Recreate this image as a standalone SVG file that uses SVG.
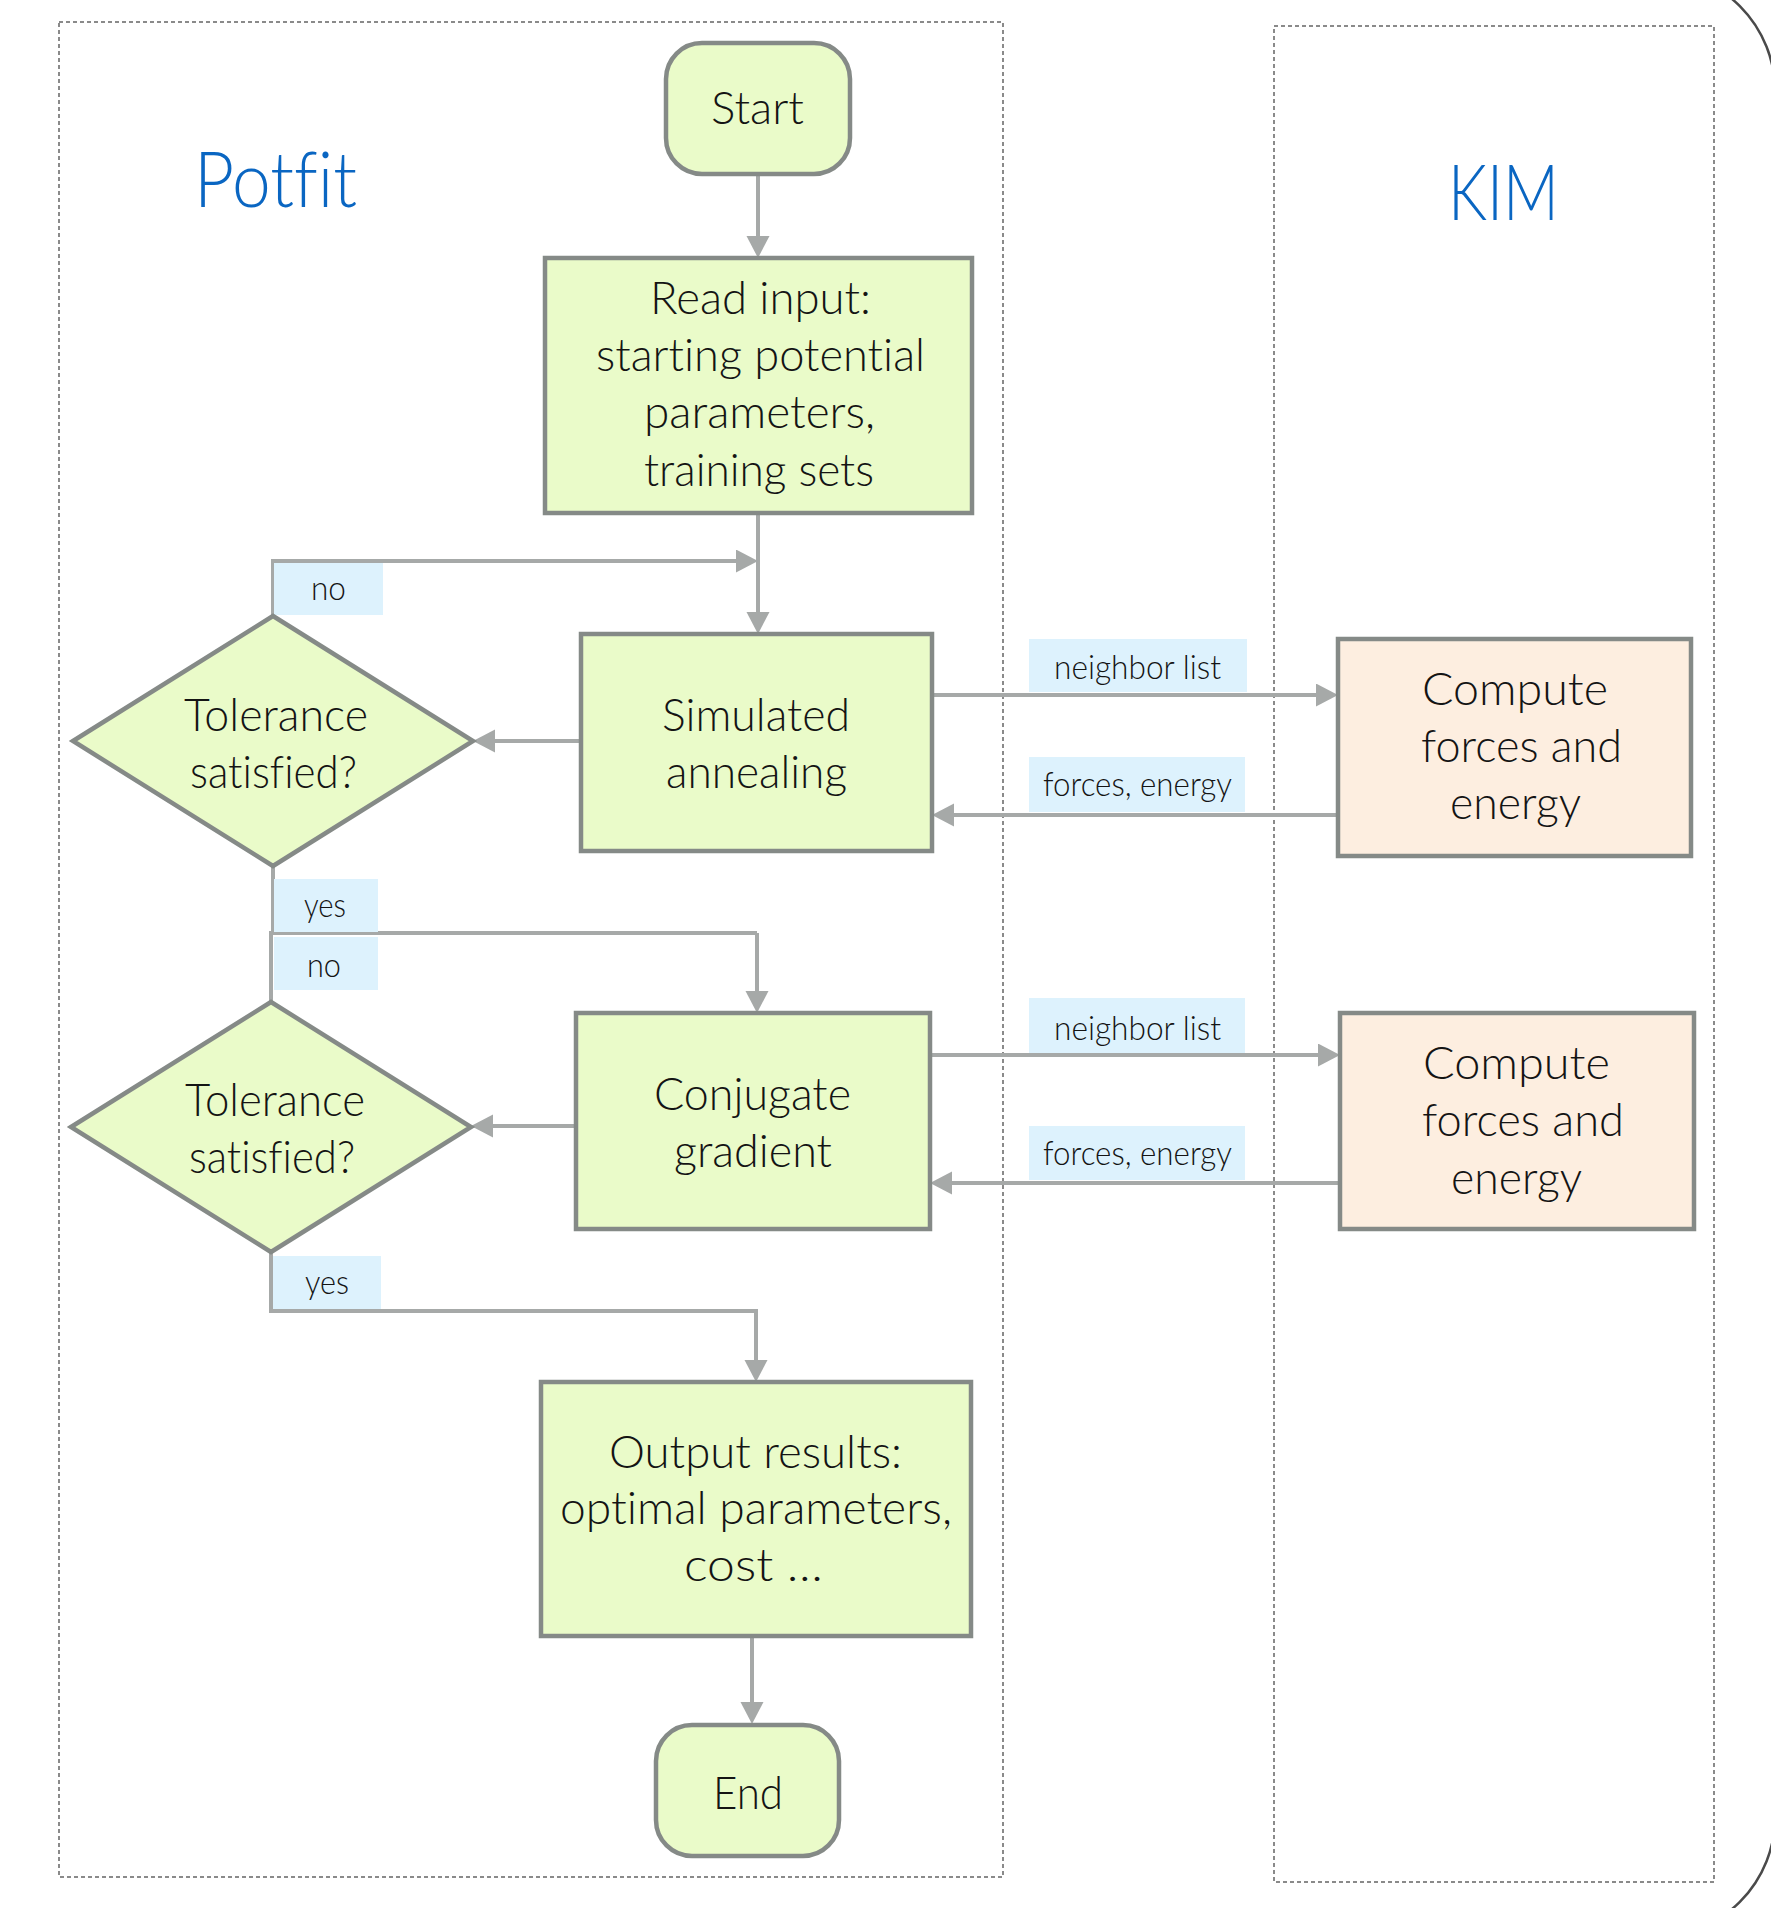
<svg xmlns="http://www.w3.org/2000/svg" width="1771" height="1908" viewBox="0 0 1771 1908">
<style>
text{font-family:Lato,"Open Sans","Liberation Sans",sans-serif;font-weight:300;fill:#141414;font-variant-ligatures:none;font-feature-settings:"liga" 0,"clig" 0,"dlig" 0}
.t{font-size:45px}
.lb{font-size:33px}
.ttl{font-size:76px;fill:#0a66c2}
.node{fill:#eafbc9;stroke:#858a87;stroke-width:4.5}
.kim{fill:#fdeee0;stroke:#858a87;stroke-width:4.5}
.lane{fill:none;stroke:#8a8a8a;stroke-width:2;stroke-dasharray:4 3}
.lbox{fill:#ddf2fd}
.c{fill:none;stroke:#a6a9a8;stroke-width:4;marker-end:url(#ah)}
.cn{fill:none;stroke:#a6a9a8;stroke-width:4}
</style>
<defs>
<marker id="ah" markerUnits="userSpaceOnUse" markerWidth="24" markerHeight="24" refX="14" refY="11.5" orient="auto">
<path d="M0,0 L22,11.5 L0,23 z" fill="#a6a9a8"/>
</marker>
</defs>
<rect width="1771" height="1908" fill="#fff"/>
<path d="M1600,-29 H1655 A120,120 0 0 1 1775,91 V1817 A120,120 0 0 1 1655,1937 H1600" fill="none" stroke="#4a4a4a" stroke-width="2.5"/>
<g id="lane-potfit">
<rect class="lane" x="59" y="22" width="944" height="1855"/>
<text class="ttl" x="194" y="207" textLength="163" lengthAdjust="spacingAndGlyphs">Potfit</text>
</g>
<g id="lane-kim">
<rect class="lane" x="1274" y="26" width="440" height="1856"/>
<text class="ttl" x="1448" y="220" textLength="111" lengthAdjust="spacingAndGlyphs">KIM</text>
</g>
<g id="connectors">
<path class="c" d="M758,176 V250"/>
<path class="c" d="M758,513 V626"/>
<path class="c" d="M581,741 H481"/>
<path class="c" d="M273,615 V561 H750"/>
<path class="cn" d="M273,867 V933"/>
<path class="cn" d="M271,1002 V933 H757"/>
<path class="c" d="M757,933 V1005"/>
<path class="c" d="M576,1126 H479"/>
<path class="c" d="M271,1252 V1311 H756 V1374"/>
<path class="c" d="M752,1636 V1716"/>
<path class="c" d="M932,695 H1330"/>
<path class="c" d="M1338,815 H940"/>
<path class="c" d="M930,1055 H1332"/>
<path class="c" d="M1340,1183 H938"/>
<rect class="lbox" x="274" y="563" width="109" height="52"/>
<text class="lb" x="311" y="600" textLength="35" lengthAdjust="spacingAndGlyphs">no</text>
<rect class="lbox" x="274" y="879" width="104" height="53"/>
<text class="lb" x="304" y="917" textLength="42" lengthAdjust="spacingAndGlyphs">yes</text>
<rect class="lbox" x="274" y="937" width="104" height="53"/>
<text class="lb" x="307" y="977" textLength="34" lengthAdjust="spacingAndGlyphs">no</text>
<rect class="lbox" x="273" y="1256" width="108" height="53"/>
<text class="lb" x="305" y="1294" textLength="44" lengthAdjust="spacingAndGlyphs">yes</text>
<rect class="lbox" x="1029" y="639" width="218" height="53"/>
<text class="lb" x="1054" y="679" textLength="167" lengthAdjust="spacingAndGlyphs">neighbor list</text>
<rect class="lbox" x="1029" y="757" width="216" height="55"/>
<text class="lb" x="1043" y="796" textLength="189" lengthAdjust="spacingAndGlyphs">forces, energy</text>
<rect class="lbox" x="1029" y="998" width="216" height="55"/>
<text class="lb" x="1054" y="1040" textLength="167" lengthAdjust="spacingAndGlyphs">neighbor list</text>
<rect class="lbox" x="1029" y="1126" width="216" height="54"/>
<text class="lb" x="1043" y="1165" textLength="189" lengthAdjust="spacingAndGlyphs">forces, energy</text>
</g>
<g id="start">
<rect class="node" x="666" y="43" width="184" height="131" rx="36"/>
<text class="t" x="711" y="124" textLength="93" lengthAdjust="spacingAndGlyphs">Start</text>
</g>
<g id="read-input">
<rect class="node" x="545" y="258" width="427" height="255"/>
<text class="t" x="650" y="314" textLength="221" lengthAdjust="spacingAndGlyphs">Read input:</text>
<text class="t" x="596" y="371" textLength="329" lengthAdjust="spacingAndGlyphs">starting potential</text>
<text class="t" x="644" y="428" textLength="231" lengthAdjust="spacingAndGlyphs">parameters,</text>
<text class="t" x="644" y="486" textLength="230" lengthAdjust="spacingAndGlyphs">training sets</text>
</g>
<g id="simulated-annealing">
<rect class="node" x="581" y="634" width="351" height="217"/>
<text class="t" x="662" y="731" textLength="188" lengthAdjust="spacingAndGlyphs">Simulated</text>
<text class="t" x="666" y="788" textLength="181" lengthAdjust="spacingAndGlyphs">annealing</text>
</g>
<g id="tolerance-1">
<polygon class="node" points="73,741 273,616 473,741 273,866"/>
<text class="t" x="184" y="731" textLength="184" lengthAdjust="spacingAndGlyphs">Tolerance</text>
<text class="t" x="190" y="788" textLength="167" lengthAdjust="spacingAndGlyphs">satisfied?</text>
</g>
<g id="conjugate-gradient">
<rect class="node" x="576" y="1013" width="354" height="216"/>
<text class="t" x="654" y="1110" textLength="197" lengthAdjust="spacingAndGlyphs">Conjugate</text>
<text class="t" x="674" y="1167" textLength="158" lengthAdjust="spacingAndGlyphs">gradient</text>
</g>
<g id="tolerance-2">
<polygon class="node" points="71,1127 271,1002 471,1127 271,1252"/>
<text class="t" x="185" y="1116" textLength="180" lengthAdjust="spacingAndGlyphs">Tolerance</text>
<text class="t" x="189" y="1173" textLength="166" lengthAdjust="spacingAndGlyphs">satisfied?</text>
</g>
<g id="compute-1">
<rect class="kim" x="1338" y="639" width="353" height="217"/>
<text class="t" x="1422" y="705" textLength="186" lengthAdjust="spacingAndGlyphs">Compute</text>
<text class="t" x="1421" y="762" textLength="201" lengthAdjust="spacingAndGlyphs">forces and</text>
<text class="t" x="1450" y="819" textLength="131" lengthAdjust="spacingAndGlyphs">energy</text>
</g>
<g id="compute-2">
<rect class="kim" x="1340" y="1013" width="354" height="216"/>
<text class="t" x="1423" y="1079" textLength="187" lengthAdjust="spacingAndGlyphs">Compute</text>
<text class="t" x="1422" y="1136" textLength="202" lengthAdjust="spacingAndGlyphs">forces and</text>
<text class="t" x="1451" y="1194" textLength="131" lengthAdjust="spacingAndGlyphs">energy</text>
</g>
<g id="output">
<rect class="node" x="541" y="1382" width="430" height="254"/>
<text class="t" x="609" y="1468" textLength="293" lengthAdjust="spacingAndGlyphs">Output results:</text>
<text class="t" x="560" y="1524" textLength="392" lengthAdjust="spacingAndGlyphs">optimal parameters,</text>
<text class="t" x="684" y="1581" textLength="139" lengthAdjust="spacingAndGlyphs">cost …</text>
</g>
<g id="end">
<rect class="node" x="656" y="1725" width="183" height="131" rx="36"/>
<text class="t" x="713" y="1809" textLength="70" lengthAdjust="spacingAndGlyphs">End</text>
</g>
</svg>
